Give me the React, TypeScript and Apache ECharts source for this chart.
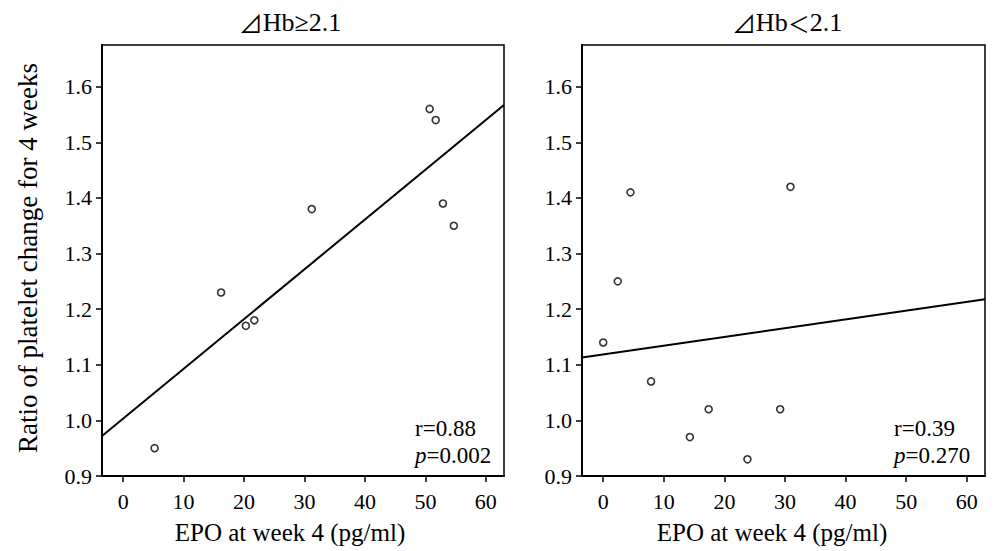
import React, { useEffect, useRef } from 'react';
import * as echarts from 'echarts';

const xTicks = [0, 10, 20, 30, 40, 50, 60];
const yTicks = [0.9, 1.0, 1.1, 1.2, 1.3, 1.4, 1.5, 1.6];

const highEpo = [5.2, 16.2, 20.3, 21.7, 31.2, 50.7, 51.7, 52.9, 54.7];
const highRatio = [0.95, 1.23, 1.17, 1.18, 1.38, 1.56, 1.54, 1.39, 1.35];
const highFit = [[-3.5, 0.972], [63, 1.567]];

const lowEpo = [0, 2.4, 4.5, 7.9, 14.3, 17.4, 23.8, 29.2, 30.9];
const lowRatio = [1.14, 1.25, 1.41, 1.07, 0.97, 1.02, 0.93, 1.02, 1.42];
const lowFit = [[-3.5, 1.113], [63, 1.218]];

const panelSigns = ['≥', '＜'];
const panelCut = '2.1';
const rValues = ['0.88', '0.39'];
const pValues = ['0.002', '0.270'];
const xTitle = 'EPO at week 4 (pg/ml)';
const yTitle = 'Ratio of platelet change for 4 weeks';

const FONT = '"Liberation Serif", "Times New Roman", "DejaVu Serif", serif';
const CJK = '"Noto Sans CJK JP", "Noto Sans CJK SC", sans-serif';

export default function App() {
  const ref = useRef<HTMLDivElement>(null);
  useEffect(() => {
    if (!ref.current) return;
    const chart = echarts.init(ref.current, null, { renderer: 'svg' });
    const grids = [
      { left: 102, top: 45, width: 402, height: 431 },
      { left: 582, top: 45, width: 403, height: 431 },
    ];
    const xAxis = grids.map((_, i) => ({
      type: 'value',
      gridIndex: i,
      min: -3.5,
      max: 63,
      axisLine: { show: true, onZero: false, lineStyle: { color: '#000', width: 2 } },
      axisTick: { show: true, length: 6, customValues: xTicks, lineStyle: { color: '#000', width: 1.5 } },
      axisLabel: { customValues: xTicks, margin: 14, fontSize: 22, color: '#000', fontFamily: FONT },
      splitLine: { show: false },
    }));
    const yAxis = grids.map((_, i) => ({
      type: 'value',
      gridIndex: i,
      min: 0.9,
      max: 1.675,
      axisLine: { show: true, onZero: false, lineStyle: { color: '#000', width: 2 } },
      axisTick: { show: true, length: 6, customValues: yTicks, lineStyle: { color: '#000', width: 1.5 } },
      axisLabel: {
        customValues: yTicks,
        margin: 10,
        fontSize: 22,
        color: '#000',
        fontFamily: FONT,
        formatter: (v: number) => v.toFixed(1),
      },
      splitLine: { show: false },
    }));
    const scatterStyle = {
      type: 'scatter',
      symbol: 'circle',
      symbolSize: 7,
      itemStyle: { color: '#fff', borderColor: '#000', borderWidth: 1.6 },
      z: 3,
    };
    const lineStyle = {
      type: 'line',
      showSymbol: false,
      symbol: 'none',
      lineStyle: { color: '#000', width: 2 },
      z: 2,
    };
    const titleX = [290, 787];
    const xTitleX = [290, 772];
    const statX = [415, 894];
    const graphic: any[] = [];
    for (let i = 0; i < 2; i++) {
      graphic.push({
        type: 'text',
        x: titleX[i],
        y: 22,
        style: {
          text: `{t|⊿}{h|Hb}{s|${panelSigns[i]}}{h|${panelCut}}`,
          rich: {
            t: { fontSize: 24, fontFamily: CJK, fill: '#000' },
            h: { fontSize: 26, fontFamily: FONT, fill: '#000' },
            s: { fontSize: i === 0 ? 26 : 22, fontFamily: i === 0 ? FONT : CJK, fill: '#000' },
          },
          align: 'center',
          verticalAlign: 'middle',
        },
      });
      graphic.push({
        type: 'text',
        x: xTitleX[i],
        y: 532,
        style: { text: xTitle, font: `25px ${FONT}`, fill: '#000', align: 'center', verticalAlign: 'middle' },
      });
      graphic.push({
        type: 'text',
        x: statX[i],
        y: 428,
        style: {
          text: `{n|r=${rValues[i]}}`,
          rich: { n: { fontSize: 23, fontFamily: FONT, fill: '#000' } },
          align: 'left',
          verticalAlign: 'middle',
        },
      });
      graphic.push({
        type: 'text',
        x: statX[i],
        y: 455,
        style: {
          text: `{i|p}{n|=${pValues[i]}}`,
          rich: {
            i: { fontSize: 23, fontFamily: FONT, fontStyle: 'italic', fill: '#000' },
            n: { fontSize: 23, fontFamily: FONT, fill: '#000' },
          },
          align: 'left',
          verticalAlign: 'middle',
        },
      });
    }
    graphic.push({
      type: 'text',
      x: 28,
      y: 258,
      rotation: Math.PI / 2,
      style: { text: yTitle, font: `27px ${FONT}`, fill: '#000', align: 'center', verticalAlign: 'middle' },
    });

    chart.setOption({
      animation: false,
      backgroundColor: '#fff',
      grid: grids.map((g) => ({ ...g, show: true, borderColor: '#000', borderWidth: 1.5, backgroundColor: 'transparent' })),
      xAxis,
      yAxis,
      series: [
        { ...lineStyle, xAxisIndex: 0, yAxisIndex: 0, data: highFit },
        { ...scatterStyle, xAxisIndex: 0, yAxisIndex: 0, data: highEpo.map((x, i) => [x, highRatio[i]]) },
        { ...lineStyle, xAxisIndex: 1, yAxisIndex: 1, data: lowFit },
        { ...scatterStyle, xAxisIndex: 1, yAxisIndex: 1, data: lowEpo.map((x, i) => [x, lowRatio[i]]) },
      ],
      graphic,
    });
    return () => chart.dispose();
  }, []);
  return (
    <div
      ref={ref}
      style={{ position: 'fixed', left: 0, top: 0, width: 993, height: 551, background: '#fff' }}
    />
  );
}
